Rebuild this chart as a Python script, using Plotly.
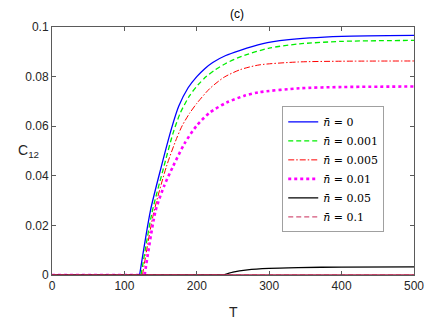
import plotly.graph_objects as go

# n = 0
t_n0 = [0, 121, 136, 151, 165, 175, 188, 200, 211, 222, 240, 259, 290, 324, 400, 500]
c_n0 = [0, 0, 0.026, 0.0437, 0.059, 0.068, 0.0755, 0.080, 0.0832, 0.0857, 0.0885, 0.0905, 0.0932, 0.0948, 0.0962, 0.0966]

# n = 0.001
t_n1 = [0, 123, 138, 153, 167, 177, 190, 202, 213, 224, 240, 262, 300, 342, 400, 500]
c_n1 = [0, 0, 0.025, 0.042, 0.057, 0.0652, 0.0723, 0.0768, 0.0800, 0.0825, 0.0853, 0.0882, 0.0915, 0.0932, 0.0942, 0.0946]

# n = 0.005
t_n5 = [0, 125, 140, 158, 172, 180, 190, 200, 218, 238, 260, 286, 340, 400, 500]
c_n5 = [0, 0, 0.0245, 0.0437, 0.055, 0.0603, 0.0652, 0.0692, 0.0752, 0.0798, 0.0828, 0.0847, 0.0859, 0.0862, 0.0863]

# n = 0.01
t_n10 = [0, 128, 143, 155, 167, 183, 200, 218, 241, 265, 286, 342, 400, 500]
c_n10 = [0, 0, 0.0258, 0.036, 0.0437, 0.053, 0.0603, 0.0655, 0.0695, 0.0722, 0.0737, 0.0753, 0.0758, 0.076]

# n = 0.05
t_n50 = [0, 236, 250, 270, 300, 340, 400, 500]
c_n50 = [0, 0, 0.0012, 0.0021, 0.0027, 0.003, 0.0032, 0.0033]

# n = 0.1
t_n100 = [0, 500]
c_n100 = [0, 0]

labels = ["0", "0.001", "0.005", "0.01", "0.05", "0.1"]
series = [(t_n0, c_n0), (t_n1, c_n1), (t_n5, c_n5), (t_n10, c_n10), (t_n50, c_n50), (t_n100, c_n100)]
styles = [
    dict(color="#0000ff", width=1.3, dash="solid"),
    dict(color="#00ee00", width=1.3, dash="5px,3px"),
    dict(color="#ff0000", width=1.0, dash="6px,2px,1.5px,2px"),
    dict(color="#ff00ff", width=2.6, dash="dot"),
    dict(color="#000000", width=1.3, dash="solid"),
    dict(color="#d4557a", width=1.2, dash="5px,3px"),
]

fig = go.Figure()
for (t, c), lab, st in zip(series, labels, styles):
    name = "<i>n̄</i> = " + lab
    if len(t) > 2:
        # flat part up to the onset, then a smooth rise
        fig.add_trace(go.Scatter(x=t[:2], y=c[:2], mode="lines", line=st,
                                 showlegend=False, hoverinfo="skip"))
        fig.add_trace(go.Scatter(x=t[1:], y=c[1:], mode="lines",
                                 line=dict(shape="spline", smoothing=0.7, **st), name=name))
    else:
        fig.add_trace(go.Scatter(x=t, y=c, mode="lines", line=st, name=name))

# densely marked n=0.1 curve reads as a solid crimson line along zero
fig.add_trace(go.Scatter(x=t_n100, y=c_n100, mode="lines", line=dict(color="#b0204a", width=1.6),
                         showlegend=False, hoverinfo="skip"))

axis_common = dict(showline=True, linecolor="#5a5a5a", linewidth=1, mirror="ticks",
                   ticks="inside", ticklen=4, tickcolor="#5a5a5a", showgrid=False,
                   zeroline=False, tickfont=dict(family="Liberation Sans, Arial", size=12, color="#262626"))

fig.update_xaxes(range=[0, 500], tickvals=[0, 100, 200, 300, 400, 500], **axis_common)
fig.update_yaxes(range=[0, 0.1], tickvals=[0, 0.02, 0.04, 0.06, 0.08, 0.1], **axis_common)

# page body adds an 8px margin, so the figure is 8px smaller and shifted
fig.update_layout(
    width=428, height=316,
    margin=dict(l=44, r=21, t=15, b=49),
    plot_bgcolor="white", paper_bgcolor="white",
    title=dict(text="(c)", x=0.535, xanchor="center", y=0.995, yanchor="top",
               font=dict(family="Liberation Sans, Arial", size=12, color="#000")),
    legend=dict(x=0.636, y=0.68, xanchor="left", yanchor="top",
                bordercolor="#a0a0a0", borderwidth=1, bgcolor="white",
                font=dict(family="DejaVu Serif, Liberation Serif", size=11, color="#000"),
                tracegroupgap=0, itemwidth=30),
    showlegend=True,
)

fig.add_annotation(text="C<sub>12</sub>", xref="paper", yref="paper", x=-0.099, y=0.5,
                   showarrow=False, font=dict(family="Liberation Sans, Arial", size=14, color="#262626"))
fig.add_annotation(text="T", xref="paper", yref="paper", x=0.5, y=-0.15, yanchor="middle",
                   showarrow=False, font=dict(family="Liberation Sans, Arial", size=14, color="#262626"))

fig.write_html("out.html")
